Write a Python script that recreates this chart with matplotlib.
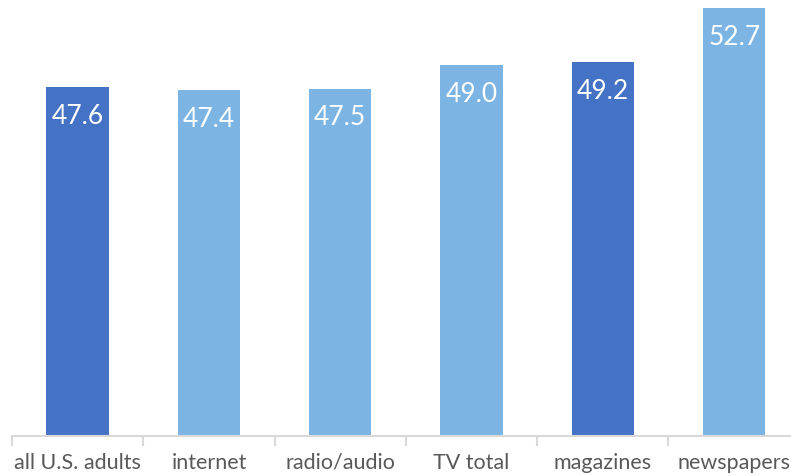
import matplotlib
matplotlib.use("Agg")
import matplotlib.pyplot as plt
from matplotlib.ticker import FixedLocator, NullFormatter

categories = ["all U.S. adults", "internet", "radio/audio", "TV total", "magazines", "newspapers"]
values = [47.6, 47.4, 47.5, 49.0, 49.2, 52.7]
highlight = [True, False, False, False, True, False]

DARK = "#4472C4"
LIGHT = "#7CB5E3"
AXIS = "#D9D9D9"
TEXT = "#595959"

plt.rcParams["font.family"] = ["Lato", "DejaVu Sans"]

W, H = 791, 476
fig = plt.figure(figsize=(W / 100, H / 100), dpi=100)
left = 12 / W
bottom = (H - 436) / H
step = 131.3 / W
ax = fig.add_axes([left, bottom, step * len(categories), 1 - bottom])

x = list(range(len(categories)))
colors = [DARK if h else LIGHT for h in highlight]
ax.bar(x, values, width=0.475, color=colors, zorder=2)

ax.set_xlim(-0.5, len(categories) - 0.5)
ax.set_ylim(25, 53.24)

for xi, v in zip(x, values):
    ax.annotate(f"{v:.1f}", xy=(xi, v), xytext=(0, -21), textcoords="offset points",
                ha="center", va="center", color="white", fontsize=19)

for s in ["top", "right", "left"]:
    ax.spines[s].set_visible(False)
ax.spines["bottom"].set_color(AXIS)
ax.spines["bottom"].set_linewidth(1.5)
ax.set_yticks([])

ax.xaxis.set_major_locator(FixedLocator([i - 0.5 for i in range(len(categories) + 1)]))
ax.xaxis.set_major_formatter(NullFormatter())
ax.xaxis.set_minor_locator(FixedLocator(x))
ax.set_xticklabels(categories, minor=True)
ax.tick_params(axis="x", which="major", length=7, width=1.5, color=AXIS)
ax.tick_params(axis="x", which="minor", length=0, pad=12, labelsize=15.5, labelcolor=TEXT)

fig.savefig("out.png", dpi=100)
